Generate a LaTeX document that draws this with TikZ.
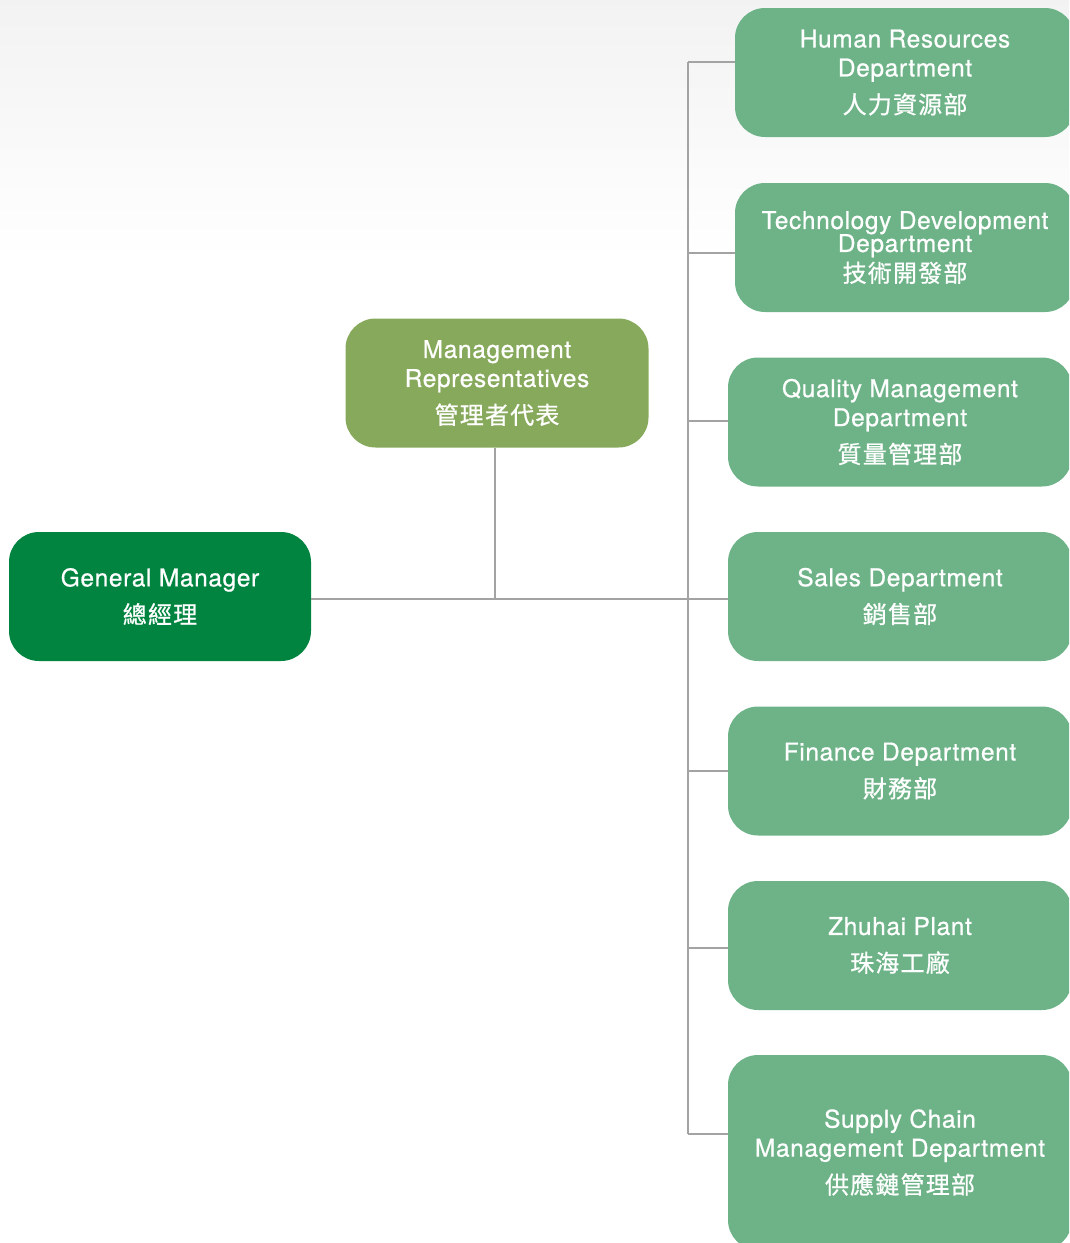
\documentclass[tikz,border=0pt]{standalone}
\usepackage{fontspec}
\setmainfont{TeX Gyre Heros}[LetterSpace=2.5,FakeBold=0.7]
\newfontfamily\cjk{Noto Sans CJK TC}[LetterSpace=5,FakeBold=0.8]
\definecolor{gmgreen}{HTML}{00843F}
\definecolor{mrgreen}{HTML}{87A95B}
\definecolor{deptgreen}{HTML}{6DB387}
\definecolor{linegray}{HTML}{A3A3A3}
\begin{document}
\begin{tikzpicture}[x=1pt,y=-1pt,
  box/.style={rounded corners=30pt, minimum height=129pt, text=white, align=center,
    font=\fontsize{24.5}{29}\selectfont, inner sep=0pt},
  gmbox/.style={box, fill=gmgreen, minimum width=302pt},
  mrbox/.style={box, fill=mrgreen, minimum width=303pt},
  deptbox/.style={box, fill=deptgreen, minimum width=344pt},
  cjkline/.style={},
  conn/.style={draw=linegray, line width=1.3pt}]
\useasboundingbox (0,0) rectangle (1069,1243);
\clip (0,0) rectangle (1069,1243);
\shade[top color=black!5, bottom color=white] (0,0) rectangle (1069,260);

\node[gmbox] (gm) at (160,596.5) {General Manager\\[8pt]{\cjk\fontsize{24}{29}\selectfont 總經理}};
\node[mrbox] (mr) at (497,383) {Management\\Representatives\\[8pt]{\cjk\fontsize{24}{29}\selectfont 管理者代表}};

\node[deptbox, minimum width=340pt] (hr) at (905,72.5) {Human Resources\\Department\\[8pt]{\cjk\fontsize{24}{29}\selectfont 人力資源部}};
\node[deptbox, minimum width=340pt] (tech) at (905,247.5) {Technology Development\\[-6pt]Department\\[1pt]{\cjk\fontsize{24}{29}\selectfont 技術開發部}};
\node[deptbox] (qm) at (900,422) {Quality Management\\Department\\[8pt]{\cjk\fontsize{24}{29}\selectfont 質量管理部}};
\node[deptbox] (sales) at (900,596.5) {Sales Department\\[8pt]{\cjk\fontsize{24}{29}\selectfont 銷售部}};
\node[deptbox] (fin) at (900,771) {Finance Department\\[8pt]{\cjk\fontsize{24}{29}\selectfont 財務部}};
\node[deptbox] (zh) at (900,945.5) {Zhuhai Plant\\[8pt]{\cjk\fontsize{24}{29}\selectfont 珠海工廠}};
\node[deptbox, minimum height=195pt] (sc) at (900,1152.5) {Supply Chain\\Management Department\\[8pt]{\cjk\fontsize{24}{29}\selectfont 供應鏈管理部}};

\coordinate (bhr) at (688,62);
\coordinate (btech) at (688,253);
\coordinate (bqm) at (688,421);
\coordinate (bsales) at (688,599);
\coordinate (bfin) at (688,771);
\coordinate (bzh) at (688,948);
\coordinate (bsc) at (688,1134);
\coordinate (bmr) at (495,599);

\draw[conn] (bhr) -- (bsc);
\draw[conn] (bhr) -- (bhr -| hr.west);
\draw[conn] (btech) -- (btech -| tech.west);
\draw[conn] (bqm) -- (bqm -| qm.west);
\draw[conn] (bfin) -- (bfin -| fin.west);
\draw[conn] (bzh) -- (bzh -| zh.west);
\draw[conn] (bsc) -- (bsc -| sc.west);
\draw[conn] (bsales -| gm.east) -- (bsales -| sales.west);
\draw[conn] (mr.south -| bmr) -- (bmr);
\end{tikzpicture}
\end{document}
